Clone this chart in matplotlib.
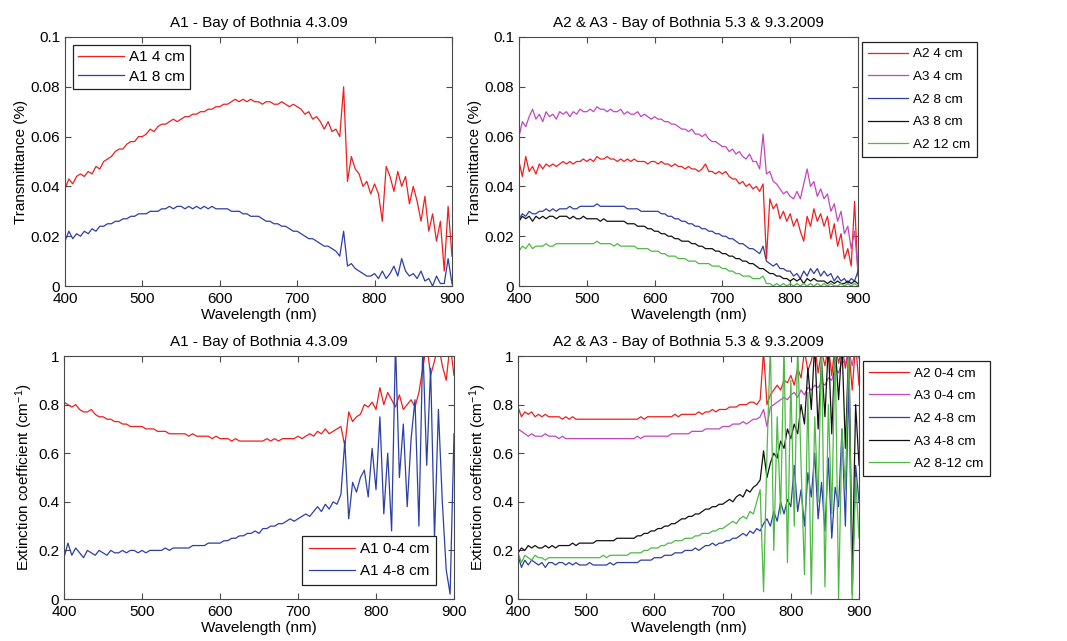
import matplotlib
matplotlib.use("Agg")
import matplotlib.pyplot as plt

plt.rcParams['font.family'] = ['Liberation Sans', 'DejaVu Sans']
plt.rcParams['font.size'] = 11
plt.rcParams['mathtext.fontset'] = 'custom'
plt.rcParams['mathtext.rm'] = 'Liberation Sans'
plt.rcParams['mathtext.default'] = 'regular'

# wavelength grid (nm), one reading every 5 nm
wavelength = list(range(400, 901, 5))

# ---- transmittance, A1 ----
a1_4cm = [
    0.039, 0.043, 0.041, 0.044, 0.045, 0.044, 0.046, 0.045, 0.048, 0.047,
    0.050, 0.051, 0.052, 0.054, 0.055, 0.055, 0.057, 0.058, 0.058, 0.060,
    0.060, 0.061, 0.063, 0.062, 0.064, 0.065, 0.065, 0.066, 0.067, 0.066,
    0.067, 0.068, 0.068, 0.069, 0.069, 0.070, 0.070, 0.071, 0.071, 0.072,
    0.072, 0.073, 0.073, 0.074, 0.075, 0.074, 0.075, 0.074, 0.075, 0.074,
    0.074, 0.073, 0.074, 0.074, 0.073, 0.073, 0.074, 0.073, 0.072, 0.073,
    0.072, 0.071, 0.069, 0.070, 0.067, 0.068, 0.066, 0.063, 0.066, 0.062,
    0.063, 0.060, 0.080, 0.042, 0.052, 0.047, 0.045, 0.040, 0.042, 0.037,
    0.041, 0.037, 0.026, 0.048, 0.044, 0.038, 0.046, 0.040, 0.044, 0.033,
    0.040, 0.034, 0.026, 0.036, 0.022, 0.029, 0.018, 0.026, 0.006, 0.032,
    0.012]
a1_8cm = [
    0.018, 0.022, 0.019, 0.021, 0.020, 0.022, 0.021, 0.023, 0.022, 0.024,
    0.024, 0.025, 0.025, 0.026, 0.026, 0.027, 0.027, 0.028, 0.028, 0.029,
    0.029, 0.029, 0.030, 0.030, 0.030, 0.031, 0.031, 0.032, 0.031, 0.032,
    0.032, 0.031, 0.032, 0.031, 0.032, 0.031, 0.032, 0.031, 0.032, 0.031,
    0.031, 0.031, 0.031, 0.030, 0.030, 0.030, 0.029, 0.029, 0.028, 0.028,
    0.028, 0.027, 0.026, 0.026, 0.025, 0.025, 0.024, 0.024, 0.023, 0.022,
    0.022, 0.021, 0.020, 0.019, 0.019, 0.018, 0.017, 0.016, 0.016, 0.015,
    0.014, 0.012, 0.022, 0.008, 0.009, 0.007, 0.006, 0.005, 0.004, 0.004,
    0.005, 0.003, 0.006, 0.003, 0.005, 0.008, 0.004, 0.011, 0.006, 0.004,
    0.005, 0.003, 0.006, 0.002, 0.003, 0.000, 0.004, 0.001, 0.001, 0.011,
    0.001]

# ---- transmittance, A2 & A3 ----
a2_4cm = [
    0.050, 0.044, 0.052, 0.046, 0.048, 0.045, 0.049, 0.047, 0.049, 0.048,
    0.049, 0.048, 0.049, 0.050, 0.049, 0.050, 0.049, 0.050, 0.050, 0.051,
    0.050, 0.051, 0.050, 0.052, 0.051, 0.051, 0.052, 0.051, 0.051, 0.050,
    0.051, 0.050, 0.051, 0.050, 0.051, 0.050, 0.050, 0.050, 0.049, 0.050,
    0.050, 0.049, 0.050, 0.049, 0.049, 0.048, 0.049, 0.048, 0.048, 0.047,
    0.048, 0.047, 0.047, 0.046, 0.047, 0.049, 0.046, 0.046, 0.045, 0.046,
    0.045, 0.046, 0.044, 0.043, 0.043, 0.041, 0.042, 0.040, 0.041, 0.039,
    0.040, 0.038, 0.041, 0.011, 0.035, 0.031, 0.033, 0.027, 0.030, 0.026,
    0.029, 0.024, 0.027, 0.022, 0.018, 0.028, 0.024, 0.031, 0.026, 0.029,
    0.024, 0.028, 0.019, 0.025, 0.016, 0.021, 0.011, 0.015, 0.008, 0.034,
    0.004]
a3_4cm = [
    0.060, 0.066, 0.064, 0.068, 0.071, 0.067, 0.069, 0.066, 0.070, 0.068,
    0.069, 0.067, 0.070, 0.069, 0.070, 0.068, 0.070, 0.069, 0.071, 0.070,
    0.070, 0.071, 0.070, 0.072, 0.071, 0.071, 0.070, 0.071, 0.070, 0.070,
    0.071, 0.069, 0.070, 0.069, 0.069, 0.070, 0.068, 0.069, 0.068, 0.067,
    0.068, 0.067, 0.067, 0.066, 0.066, 0.065, 0.065, 0.064, 0.063, 0.063,
    0.062, 0.063, 0.061, 0.061, 0.060, 0.061, 0.059, 0.058, 0.058, 0.057,
    0.056, 0.056, 0.054, 0.055, 0.053, 0.054, 0.052, 0.051, 0.053, 0.050,
    0.050, 0.047, 0.061, 0.045, 0.046, 0.042, 0.041, 0.039, 0.037, 0.038,
    0.036, 0.035, 0.038, 0.035, 0.041, 0.047, 0.040, 0.042, 0.036, 0.039,
    0.035, 0.037, 0.030, 0.033, 0.026, 0.030, 0.021, 0.024, 0.015, 0.022,
    0.006]
a2_8cm = [
    0.027, 0.029, 0.028, 0.030, 0.029, 0.029, 0.030, 0.030, 0.031, 0.030,
    0.031, 0.030, 0.031, 0.031, 0.031, 0.032, 0.031, 0.031, 0.032, 0.032,
    0.032, 0.032, 0.032, 0.033, 0.032, 0.032, 0.032, 0.032, 0.032, 0.032,
    0.032, 0.032, 0.031, 0.031, 0.031, 0.031, 0.030, 0.030, 0.030, 0.030,
    0.030, 0.030, 0.029, 0.029, 0.028, 0.028, 0.027, 0.027, 0.026, 0.026,
    0.025, 0.025, 0.024, 0.024, 0.023, 0.023, 0.022, 0.022, 0.021, 0.021,
    0.020, 0.020, 0.019, 0.019, 0.018, 0.017, 0.017, 0.016, 0.015, 0.015,
    0.014, 0.013, 0.016, 0.010, 0.009, 0.008, 0.009, 0.007, 0.007, 0.006,
    0.006, 0.004, 0.005, 0.003, 0.006, 0.004, 0.007, 0.005, 0.007, 0.004,
    0.006, 0.004, 0.005, 0.002, 0.004, 0.002, 0.003, 0.001, 0.003, 0.002,
    0.006]
a3_8cm = [
    0.026, 0.028, 0.027, 0.028, 0.026, 0.028, 0.027, 0.028, 0.027, 0.028,
    0.028, 0.027, 0.028, 0.028, 0.028, 0.027, 0.028, 0.027, 0.027, 0.028,
    0.027, 0.027, 0.027, 0.027, 0.026, 0.027, 0.026, 0.026, 0.026, 0.026,
    0.026, 0.026, 0.025, 0.025, 0.025, 0.024, 0.024, 0.024, 0.023, 0.023,
    0.022, 0.022, 0.021, 0.021, 0.020, 0.020, 0.019, 0.019, 0.018, 0.018,
    0.018, 0.017, 0.017, 0.016, 0.016, 0.015, 0.015, 0.015, 0.014, 0.014,
    0.013, 0.013, 0.012, 0.012, 0.011, 0.011, 0.010, 0.010, 0.009, 0.009,
    0.008, 0.007, 0.007, 0.006, 0.005, 0.005, 0.004, 0.004, 0.003, 0.003,
    0.002, 0.003, 0.002, 0.003, 0.001, 0.003, 0.002, 0.003, 0.002, 0.002,
    0.002, 0.001, 0.002, 0.001, 0.002, 0.001, 0.001, 0.002, 0.001, 0.002,
    0.001]
a2_12cm = [
    0.014, 0.016, 0.015, 0.017, 0.015, 0.016, 0.016, 0.016, 0.017, 0.016,
    0.016, 0.017, 0.017, 0.017, 0.017, 0.017, 0.017, 0.017, 0.017, 0.017,
    0.017, 0.017, 0.017, 0.018, 0.017, 0.017, 0.017, 0.017, 0.016, 0.017,
    0.016, 0.016, 0.016, 0.016, 0.016, 0.015, 0.015, 0.015, 0.015, 0.014,
    0.014, 0.014, 0.013, 0.013, 0.012, 0.012, 0.012, 0.011, 0.011, 0.011,
    0.010, 0.010, 0.010, 0.009, 0.009, 0.009, 0.009, 0.008, 0.008, 0.008,
    0.007, 0.007, 0.006, 0.006, 0.005, 0.005, 0.004, 0.004, 0.004, 0.003,
    0.003, 0.003, 0.004, 0.001, 0.001, 0.000, 0.001, 0.000, 0.001, 0.000,
    0.001, 0.000, 0.001, 0.000, 0.001, 0.000, 0.001, 0.000, 0.001, 0.000,
    0.001, 0.000, 0.001, 0.000, 0.000, 0.001, 0.000, 0.001, 0.000, 0.001,
    0.000]

# ---- extinction coefficient, A1 ----
a1_0_4 = [
    0.81, 0.80, 0.79, 0.80, 0.78, 0.77, 0.77, 0.78, 0.76, 0.75,
    0.75, 0.74, 0.74, 0.73, 0.73, 0.72, 0.72, 0.71, 0.71, 0.71,
    0.71, 0.70, 0.70, 0.70, 0.69, 0.69, 0.69, 0.68, 0.68, 0.68,
    0.68, 0.68, 0.67, 0.68, 0.67, 0.67, 0.67, 0.67, 0.66, 0.67,
    0.66, 0.66, 0.66, 0.65, 0.66, 0.65, 0.65, 0.65, 0.65, 0.65,
    0.65, 0.65, 0.66, 0.65, 0.66, 0.65, 0.66, 0.66, 0.66, 0.66,
    0.67, 0.66, 0.67, 0.68, 0.67, 0.69, 0.68, 0.70, 0.68, 0.69,
    0.70, 0.71, 0.63, 0.77, 0.73, 0.75, 0.76, 0.80, 0.79, 0.81,
    0.78, 0.87, 0.80, 0.85, 0.82, 0.79, 0.84, 0.78, 0.80, 0.82,
    0.79, 0.85, 0.95, 1.05, 0.92, 0.98, 1.05, 0.96, 0.90, 1.05,
    0.92]
a1_4_8 = [
    0.17, 0.23, 0.18, 0.21, 0.19, 0.17, 0.20, 0.19, 0.18, 0.20,
    0.19, 0.18, 0.20, 0.19, 0.19, 0.20, 0.19, 0.20, 0.20, 0.19,
    0.20, 0.19, 0.20, 0.20, 0.20, 0.20, 0.21, 0.20, 0.21, 0.21,
    0.21, 0.21, 0.21, 0.22, 0.22, 0.22, 0.22, 0.23, 0.23, 0.23,
    0.23, 0.24, 0.24, 0.25, 0.25, 0.26, 0.26, 0.27, 0.27, 0.28,
    0.27, 0.29, 0.29, 0.30, 0.30, 0.31, 0.31, 0.32, 0.33, 0.32,
    0.33, 0.34, 0.35, 0.34, 0.36, 0.38, 0.36, 0.39, 0.37, 0.40,
    0.39, 0.43, 0.65, 0.33, 0.48, 0.44, 0.50, 0.53, 0.42, 0.62,
    0.45, 0.75, 0.35, 0.60, 0.28, 1.05, 0.50, 0.72, 0.38, 0.66,
    0.82, 0.30, 1.05, 0.55, 0.95, 0.25, 0.78, 0.40, 0.12, 0.02,
    0.68]

# ---- extinction coefficient, A2 & A3 ----
a2_0_4 = [
    0.79, 0.75, 0.77, 0.76, 0.77, 0.75, 0.76, 0.75, 0.76, 0.75,
    0.75, 0.75, 0.75, 0.74, 0.75, 0.74, 0.75, 0.74, 0.74, 0.74,
    0.74, 0.74, 0.74, 0.74, 0.74, 0.74, 0.74, 0.74, 0.74, 0.74,
    0.74, 0.74, 0.74, 0.74, 0.74, 0.74, 0.75, 0.74, 0.75, 0.75,
    0.75, 0.75, 0.75, 0.75, 0.75, 0.75, 0.76, 0.75, 0.76, 0.76,
    0.76, 0.76, 0.76, 0.77, 0.76, 0.77, 0.77, 0.78, 0.77, 0.78,
    0.78, 0.78, 0.79, 0.79, 0.79, 0.80, 0.80, 0.80, 0.81, 0.81,
    0.80, 0.82, 1.02, 0.80, 0.84, 0.86, 0.88, 0.86, 0.90, 0.89,
    0.92, 0.88, 0.95, 0.91, 1.02, 0.94, 0.98, 1.05, 0.93, 1.02,
    0.96, 1.04, 0.92, 1.05, 0.97, 1.04, 0.95, 1.03, 0.86, 1.05,
    0.88]
a3_0_4 = [
    0.70, 0.69, 0.68, 0.67, 0.68, 0.67, 0.67, 0.67, 0.68, 0.67,
    0.67, 0.67, 0.66, 0.67, 0.66, 0.66, 0.66, 0.66, 0.66, 0.66,
    0.66, 0.66, 0.66, 0.66, 0.66, 0.66, 0.66, 0.66, 0.66, 0.66,
    0.66, 0.66, 0.66, 0.66, 0.66, 0.67, 0.66, 0.67, 0.67, 0.67,
    0.67, 0.67, 0.67, 0.67, 0.67, 0.68, 0.68, 0.68, 0.68, 0.68,
    0.68, 0.69, 0.69, 0.69, 0.69, 0.70, 0.70, 0.70, 0.70, 0.70,
    0.71, 0.71, 0.71, 0.72, 0.72, 0.72, 0.73, 0.72, 0.73, 0.74,
    0.74, 0.75, 0.78, 0.71, 0.79, 0.80, 0.81, 0.82, 0.83, 0.82,
    0.84, 0.85, 0.83, 0.86, 0.84, 0.87, 0.86, 0.88, 0.87, 0.89,
    0.88, 0.91, 0.90, 0.95, 0.93, 0.98, 0.97, 1.02, 0.96, 1.04,
    0.99]
a2_4_8 = [
    0.18, 0.13, 0.16, 0.14, 0.16, 0.15, 0.14, 0.15, 0.13, 0.15,
    0.15, 0.14, 0.15, 0.15, 0.14, 0.15, 0.14, 0.15, 0.14, 0.14,
    0.14, 0.15, 0.14, 0.14, 0.14, 0.14, 0.14, 0.15, 0.14, 0.15,
    0.15, 0.15, 0.15, 0.15, 0.15, 0.15, 0.16, 0.16, 0.16, 0.16,
    0.17, 0.17, 0.17, 0.18, 0.18, 0.18, 0.19, 0.19, 0.19, 0.20,
    0.20, 0.20, 0.21, 0.20, 0.21, 0.22, 0.22, 0.23, 0.22, 0.23,
    0.23, 0.24, 0.24, 0.25, 0.25, 0.26, 0.27, 0.26, 0.28, 0.27,
    0.29, 0.28, 0.31, 0.33, 0.30, 0.36, 0.32, 0.40, 0.35, 0.41,
    0.38, 0.55, 0.36, 0.45, 0.30, 0.52, 0.42, 0.60, 0.33, 0.48,
    0.28, 0.58, 0.25, 0.46, 0.38, 0.70, 0.30, 0.90, 0.02, 0.55,
    0.40]
a3_4_8 = [
    0.19, 0.21, 0.20, 0.22, 0.21, 0.22, 0.21, 0.21, 0.22, 0.21,
    0.22, 0.21, 0.22, 0.22, 0.22, 0.22, 0.23, 0.22, 0.23, 0.23,
    0.23, 0.23, 0.23, 0.24, 0.24, 0.24, 0.24, 0.24, 0.24, 0.25,
    0.25, 0.25, 0.25, 0.25, 0.25, 0.26, 0.26, 0.27, 0.27, 0.28,
    0.28, 0.29, 0.29, 0.30, 0.30, 0.31, 0.31, 0.32, 0.33, 0.33,
    0.34, 0.34, 0.35, 0.35, 0.36, 0.37, 0.37, 0.38, 0.38, 0.39,
    0.39, 0.40, 0.41, 0.40, 0.42, 0.43, 0.42, 0.45, 0.44, 0.46,
    0.47, 0.49, 0.61, 0.50, 0.56, 0.60, 0.58, 0.65, 0.62, 0.70,
    0.66, 0.72, 0.68, 0.80, 0.72, 0.95, 0.78, 1.05, 0.70, 0.98,
    0.75, 1.05, 0.68, 1.05, 0.82, 1.05, 0.62, 1.05, 0.10, 0.80,
    0.55]
a2_8_12 = [
    0.19, 0.15, 0.18, 0.17, 0.16, 0.18, 0.17, 0.17, 0.16, 0.17,
    0.17, 0.17, 0.17, 0.17, 0.17, 0.17, 0.17, 0.17, 0.17, 0.17,
    0.17, 0.17, 0.17, 0.17, 0.17, 0.18, 0.17, 0.18, 0.18, 0.18,
    0.18, 0.18, 0.18, 0.19, 0.19, 0.19, 0.19, 0.20, 0.20, 0.21,
    0.21, 0.21, 0.22, 0.22, 0.23, 0.23, 0.24, 0.24, 0.24, 0.25,
    0.25, 0.25, 0.26, 0.26, 0.27, 0.27, 0.27, 0.28, 0.28, 0.29,
    0.29, 0.30, 0.31, 0.32, 0.31, 0.33, 0.34, 0.33, 0.36, 0.35,
    0.40, 0.45, 0.03, 0.60, 1.05, 0.20, 0.75, 0.35, 1.05, 0.15,
    0.90, 0.30, 1.05, 0.55, 0.10, 0.85, 0.02, 0.75, 0.40, 1.05,
    0.05, 0.80, 0.35, 1.05, 0.00, 0.70, 0.45, 1.05, 0.00, 0.50,
    0.25]

RED = '#f01e1e'
MAG = '#c246be'
BLUE = '#2c3fa5'
BLACK = '#111111'
GREEN = '#4fb945'
FRAME = '#4a4a4a'

title_a1 = 'A1 - Bay of Bothnia 4.3.09'
title_a23 = 'A2 & A3 - Bay of Bothnia 5.3 & 9.3.2009'


def style_axes(ax, ymax, yticklabels, ylabel, title):
    ax.set_xlim(400, 900)
    ax.set_ylim(0, ymax)
    ax.set_xticks([400, 500, 600, 700, 800, 900])
    ax.set_yticks([ymax * i / 5 for i in range(6)])
    ax.set_yticklabels(yticklabels)
    ax.tick_params(direction='in', top=True, right=True, length=4,
                   width=0.8, color=FRAME, labelsize=11)
    ax.tick_params(axis='x', pad=4.5)
    ax.tick_params(axis='y', pad=3.5)
    for sp in ax.spines.values():
        sp.set_color(FRAME)
        sp.set_linewidth(0.8)
    ax.set_xlabel('Wavelength (nm)', labelpad=1)
    ax.set_ylabel(ylabel, labelpad=2)
    ax.set_title(title, fontsize=11, pad=7.5)


def style_legend(leg):
    frame = leg.get_frame()
    frame.set_edgecolor('#222222')
    frame.set_linewidth(0.9)
    frame.set_boxstyle('square', pad=0)


fig = plt.figure(figsize=(10.67, 6.41), dpi=100)

t_labels = ['0', '0.02', '0.04', '0.06', '0.08', '0.1']
e_labels = ['0', '0.2', '0.4', '0.6', '0.8', '1']
left_leg = dict(fontsize=11, handlelength=3.0, handletextpad=0.33,
                fancybox=False, framealpha=1)
right_leg = dict(fontsize=9.7, handlelength=2.97, handletextpad=0.37,
                 labelspacing=0.76, borderpad=0.45, fancybox=False,
                 framealpha=1, borderaxespad=0, loc='upper left',
                 bbox_transform=fig.transFigure)

# top left
ax1 = fig.add_axes([0.0609, 0.5538, 0.3627, 0.3885])
ax1.plot(wavelength, a1_4cm, color=RED, lw=0.9, label='A1 4 cm')
ax1.plot(wavelength, a1_8cm, color=BLUE, lw=0.9, label='A1 8 cm')
style_axes(ax1, 0.1, t_labels, 'Transmittance (%)', title_a1)
style_legend(ax1.legend(loc='upper left', borderaxespad=0.5,
                        labelspacing=0.37, borderpad=0.35, **left_leg))

# top right
ax2 = fig.add_axes([0.4864, 0.5538, 0.3177, 0.3885])
ax2.plot(wavelength, a2_4cm, color=RED, lw=0.9, label='A2 4 cm')
ax2.plot(wavelength, a3_4cm, color=MAG, lw=0.9, label='A3 4 cm')
ax2.plot(wavelength, a2_8cm, color=BLUE, lw=0.9, label='A2 8 cm')
ax2.plot(wavelength, a3_8cm, color=BLACK, lw=0.9, label='A3 8 cm')
ax2.plot(wavelength, a2_12cm, color=GREEN, lw=0.9, label='A2 12 cm')
style_axes(ax2, 0.1, t_labels, 'Transmittance (%)', title_a23)
style_legend(ax2.legend(bbox_to_anchor=(0.808, 0.9345), **right_leg))

# bottom left
ax3 = fig.add_axes([0.0600, 0.0655, 0.3655, 0.3791])
ax3.plot(wavelength, a1_0_4, color=RED, lw=0.9, label='A1 0-4 cm')
ax3.plot(wavelength, a1_4_8, color=BLUE, lw=0.9, label='A1 4-8 cm')
style_axes(ax3, 1.0, e_labels, 'Extinction coefficient (cm$^{-1}$)', title_a1)
style_legend(ax3.legend(loc='lower right', bbox_to_anchor=(0.4086, 0.0874),
                        bbox_transform=fig.transFigure, borderaxespad=0,
                        labelspacing=0.5, borderpad=0.45, **left_leg))

# bottom right
ax4 = fig.add_axes([0.4855, 0.0655, 0.3196, 0.3791])
ax4.plot(wavelength, a2_0_4, color=RED, lw=0.9, label='A2 0-4 cm')
ax4.plot(wavelength, a3_0_4, color=MAG, lw=0.9, label='A3 0-4 cm')
ax4.plot(wavelength, a2_4_8, color=BLUE, lw=0.9, label='A2 4-8 cm')
ax4.plot(wavelength, a3_4_8, color=BLACK, lw=0.9, label='A3 4-8 cm')
ax4.plot(wavelength, a2_8_12, color=GREEN, lw=0.9, label='A2 8-12 cm')
style_axes(ax4, 1.0, e_labels, 'Extinction coefficient (cm$^{-1}$)', title_a23)
style_legend(ax4.legend(bbox_to_anchor=(0.809, 0.4368), **right_leg))

fig.savefig('out.png', dpi=100)
